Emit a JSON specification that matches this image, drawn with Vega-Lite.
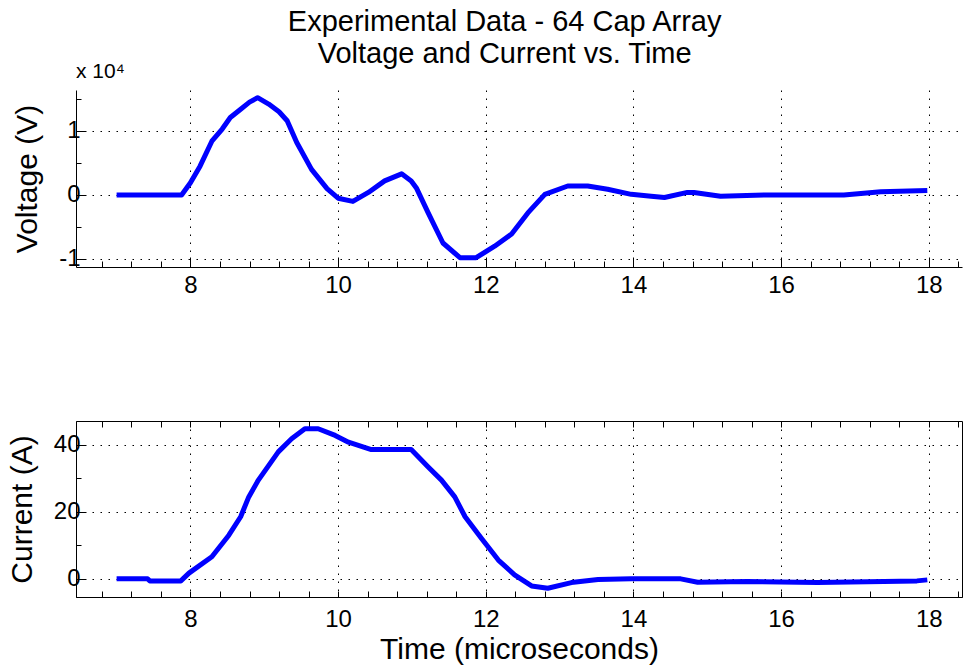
{
  "$schema": "https://vega.github.io/schema/vega-lite/v6.json",
  "background": "white",
  "padding": {"left": 6, "top": 7, "right": 0, "bottom": 0},
  "title": {
    "text": ["Experimental Data - 64 Cap Array", "Voltage and Current vs. Time"],
    "fontSize": 29, "font": "Liberation Sans", "fontWeight": "normal", "color": "black",
    "anchor": "middle", "lineHeight": 32, "dx": 20, "offset": -8
  },
  "spacing": 119,
  "datasets": {
    "volt": [
      {"t": 7.0, "v": 0}, {"t": 7.5, "v": 0}, {"t": 7.88, "v": 0}, {"t": 8.0, "v": 1900},
      {"t": 8.13, "v": 4500}, {"t": 8.29, "v": 8400}, {"t": 8.43, "v": 10300}, {"t": 8.54, "v": 12100},
      {"t": 8.68, "v": 13400}, {"t": 8.8, "v": 14500}, {"t": 8.91, "v": 15200}, {"t": 9.06, "v": 14200},
      {"t": 9.2, "v": 13000}, {"t": 9.31, "v": 11600}, {"t": 9.44, "v": 8200}, {"t": 9.64, "v": 4000},
      {"t": 9.85, "v": 1000}, {"t": 10.0, "v": -500}, {"t": 10.2, "v": -1000}, {"t": 10.41, "v": 400},
      {"t": 10.63, "v": 2200}, {"t": 10.86, "v": 3300}, {"t": 10.99, "v": 2200}, {"t": 11.06, "v": 1100},
      {"t": 11.22, "v": -2800}, {"t": 11.42, "v": -7500}, {"t": 11.65, "v": -9800}, {"t": 11.87, "v": -9800},
      {"t": 12.12, "v": -8000}, {"t": 12.35, "v": -6100}, {"t": 12.57, "v": -2800}, {"t": 12.8, "v": 100},
      {"t": 13.11, "v": 1400}, {"t": 13.38, "v": 1400}, {"t": 13.65, "v": 900}, {"t": 13.97, "v": 100},
      {"t": 14.24, "v": -200}, {"t": 14.42, "v": -400}, {"t": 14.73, "v": 400}, {"t": 14.82, "v": 400},
      {"t": 15.18, "v": -200}, {"t": 15.77, "v": 0}, {"t": 16.85, "v": 0}, {"t": 17.35, "v": 500},
      {"t": 17.98, "v": 700}
    ],
    "curr": [
      {"t": 7.0, "i": 0}, {"t": 7.42, "i": 0}, {"t": 7.45, "i": -0.6}, {"t": 7.87, "i": -0.6},
      {"t": 7.98, "i": 1.7}, {"t": 8.29, "i": 6.6}, {"t": 8.52, "i": 13}, {"t": 8.68, "i": 18.5},
      {"t": 8.79, "i": 24.4}, {"t": 8.92, "i": 29.4}, {"t": 9.19, "i": 37.8}, {"t": 9.37, "i": 41.7},
      {"t": 9.55, "i": 44.7}, {"t": 9.73, "i": 44.7}, {"t": 9.96, "i": 42.7}, {"t": 10.14, "i": 40.7},
      {"t": 10.45, "i": 38.5}, {"t": 10.99, "i": 38.5}, {"t": 11.22, "i": 33.3}, {"t": 11.4, "i": 29.4},
      {"t": 11.58, "i": 24.4}, {"t": 11.72, "i": 18.5}, {"t": 11.94, "i": 12.1}, {"t": 12.17, "i": 5.6},
      {"t": 12.39, "i": 1.2}, {"t": 12.62, "i": -2.1}, {"t": 12.84, "i": -2.8}, {"t": 13.16, "i": -1.1},
      {"t": 13.52, "i": -0.2}, {"t": 13.97, "i": 0}, {"t": 14.64, "i": 0}, {"t": 14.87, "i": -1.0},
      {"t": 15.54, "i": -0.8}, {"t": 16.49, "i": -1.1}, {"t": 17.84, "i": -0.6}, {"t": 17.98, "i": -0.3}
    ]
  },
  "vconcat": [
    {
      "width": 886,
      "height": 177,
      "view": {"stroke": null},
      "title": {
        "text": "x 10⁴", "anchor": "start", "frame": "group",
        "fontSize": 21, "font": "Liberation Sans", "fontWeight": "normal", "color": "black", "offset": 5
      },
      "data": {"name": "volt"},
      "mark": {"type": "line", "color": "#0000ff", "strokeWidth": 5, "strokeJoin": "round"},
      "encoding": {
        "x": {
          "field": "t", "type": "quantitative",
          "scale": {"domain": [6.45, 18.45], "nice": false, "zero": false},
          "axis": {
            "title": null,
            "values": [6.8, 7.2, 7.6, 8, 8.4, 8.8, 9.2, 9.6, 10, 10.4, 10.8, 11.2, 11.6, 12, 12.4, 12.8, 13.2, 13.6, 14, 14.4, 14.8, 15.2, 15.6, 16, 16.4, 16.8, 17.2, 17.6, 18, 18.4],
            "grid": true,
            "gridOpacity": {"condition": {"test": "abs(datum.value/2-round(datum.value/2))<0.001", "value": 1}, "value": 0},
            "tickSize": {"condition": {"test": "abs(datum.value/2-round(datum.value/2))<0.001", "value": -10}, "value": -6},
            "labelExpr": "abs(datum.value/2-round(datum.value/2))<0.001 ? '' + round(datum.value) : ''",
            "labelPadding": 16
          }
        },
        "y": {
          "field": "v", "type": "quantitative",
          "scale": {"domain": [-11250, 16400], "nice": false, "zero": false},
          "axis": {
            "title": "Voltage (V)",
            "values": [-10000, -5000, 0, 5000, 10000, 15000],
            "grid": true,
            "gridOpacity": {"condition": {"test": "abs(datum.value % 10000)<1", "value": 1}, "value": 0},
            "tickSize": {"condition": {"test": "abs(datum.value % 10000)<1", "value": -10}, "value": -5},
            "labelExpr": "abs(datum.value % 10000)<1 ? '' + round(datum.value/10000) : ''",
            "labelPadding": 6,
            "titlePadding": 16
          }
        }
      }
    },
    {
      "width": 886,
      "height": 176,
      "view": {"stroke": "black", "strokeWidth": 1},
      "resolve": {"axis": {"x": "independent"}},
      "layer": [
        {
          "data": {"name": "curr"},
          "mark": {"type": "line", "color": "#0000ff", "strokeWidth": 5, "strokeJoin": "round"},
          "encoding": {
            "x": {
              "field": "t", "type": "quantitative",
              "scale": {"domain": [6.45, 18.45], "nice": false, "zero": false},
              "axis": {
                "orient": "bottom",
                "title": "Time (microseconds)",
                "values": [6.8, 7.2, 7.6, 8, 8.4, 8.8, 9.2, 9.6, 10, 10.4, 10.8, 11.2, 11.6, 12, 12.4, 12.8, 13.2, 13.6, 14, 14.4, 14.8, 15.2, 15.6, 16, 16.4, 16.8, 17.2, 17.6, 18, 18.4],
                "grid": true,
                "gridOpacity": {"condition": {"test": "abs(datum.value/2-round(datum.value/2))<0.001", "value": 1}, "value": 0},
                "tickSize": -6,
                "labelExpr": "abs(datum.value/2-round(datum.value/2))<0.001 ? '' + round(datum.value) : ''",
                "labelPadding": 16,
                "titlePadding": 3
              }
            },
            "y": {
              "field": "i", "type": "quantitative",
              "scale": {"domain": [-5.4, 47], "nice": false, "zero": false},
              "axis": {
                "title": "Current (A)",
                "values": [0, 10, 20, 30, 40],
                "grid": true,
                "gridOpacity": {"condition": {"test": "abs(datum.value % 20)<0.01", "value": 1}, "value": 0},
                "tickSize": {"condition": {"test": "abs(datum.value % 20)<0.01", "value": -10}, "value": -5},
                "labelExpr": "abs(datum.value % 20)<0.01 ? '' + round(datum.value) : ''",
                "labelPadding": 6,
                "titlePadding": 16
              }
            }
          }
        },
        {
          "data": {"name": "curr"},
          "mark": {"type": "line", "strokeOpacity": 0},
          "encoding": {
            "x": {
              "field": "t", "type": "quantitative",
              "axis": {
                "orient": "top",
                "title": null,
                "values": [6.8, 7.2, 7.6, 8, 8.4, 8.8, 9.2, 9.6, 10, 10.4, 10.8, 11.2, 11.6, 12, 12.4, 12.8, 13.2, 13.6, 14, 14.4, 14.8, 15.2, 15.6, 16, 16.4, 16.8, 17.2, 17.6, 18, 18.4],
                "grid": false,
                "labels": false,
                "domain": false,
                "tickSize": -6
              }
            },
            "y": {"field": "i", "type": "quantitative"}
          }
        }
      ]
    }
  ],
  "config": {
    "view": {"stroke": null},
    "font": "Liberation Sans",
    "axis": {
      "domainColor": "black", "domainWidth": 1,
      "tickColor": "black", "tickWidth": 1,
      "gridColor": "black", "gridDash": [1.5, 6.5], "gridWidth": 1,
      "labelFont": "Liberation Sans", "labelFontSize": 24, "labelColor": "black",
      "titleFont": "Liberation Sans", "titleFontSize": 30, "titleFontWeight": "normal", "titleColor": "black",
      "labelOverlap": false, "labelFlush": false
    }
  }
}
